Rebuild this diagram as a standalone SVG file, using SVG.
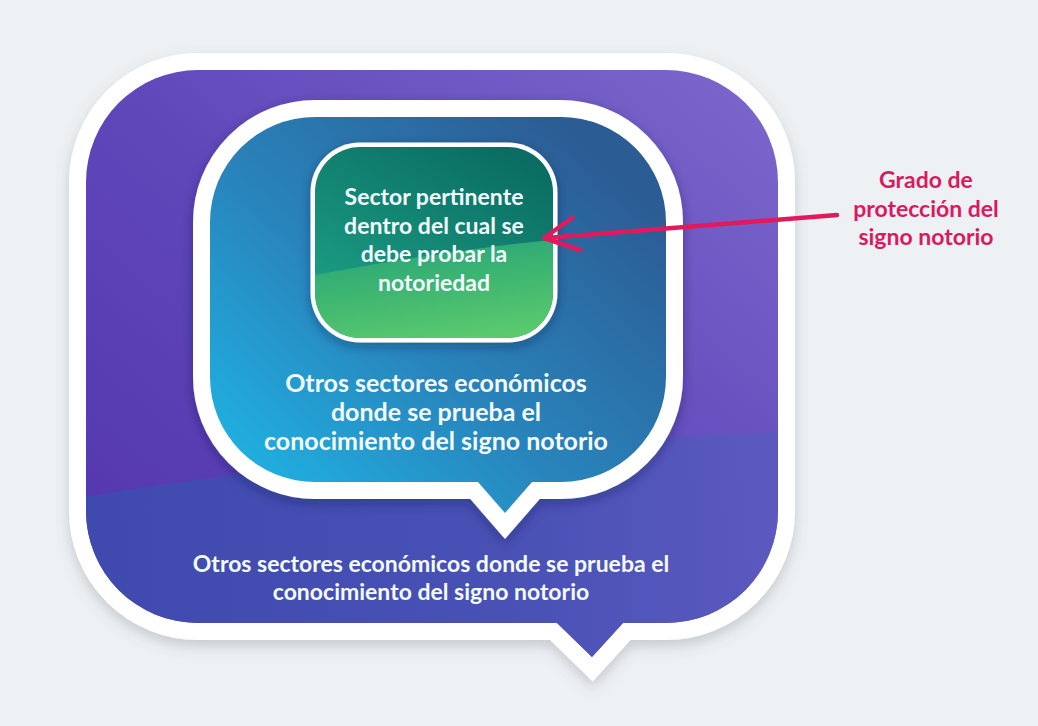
<svg xmlns="http://www.w3.org/2000/svg" width="1038" height="726" viewBox="0 0 1038 726">
  <defs>
    <style>
      .lbl { font-family: Lato, "Open Sans", "Liberation Sans", sans-serif; font-weight: bold; fill: #f3fbff; text-anchor: middle; }
      .red { font-family: Lato, "Open Sans", "Liberation Sans", sans-serif; font-weight: bold; fill: #d81b5e; text-anchor: middle; font-size: 23px; }
      .rim { fill: none; stroke: #ffffff; stroke-width: 34; stroke-linejoin: miter; stroke-miterlimit: 10; }
    </style>
    <filter id="shadow" x="-10%" y="-10%" width="120%" height="125%">
      <feDropShadow dx="0" dy="6" stdDeviation="7" flood-color="#5a6270" flood-opacity="0.28"/>
    </filter>
    <filter id="shadowIn" x="-10%" y="-10%" width="120%" height="125%">
      <feDropShadow dx="0" dy="4" stdDeviation="6" flood-color="#102040" flood-opacity="0.35"/>
    </filter>
    <linearGradient id="gPurple" x1="0" y1="1" x2="1" y2="0">
      <stop offset="0" stop-color="#5233ab"/>
      <stop offset="0.5" stop-color="#5f47ba"/>
      <stop offset="1" stop-color="#7c68cc"/>
    </linearGradient>
    <linearGradient id="gPurpleLow" x1="0" y1="0" x2="1" y2="0">
      <stop offset="0" stop-color="#3d4aae"/>
      <stop offset="0.6" stop-color="#4852b5"/>
      <stop offset="1" stop-color="#5e5bc2"/>
    </linearGradient>
    <linearGradient id="gBlue" x1="0" y1="0.9" x2="0.85" y2="0.1">
      <stop offset="0" stop-color="#1fb5e5"/>
      <stop offset="0.45" stop-color="#2886bd"/>
      <stop offset="1" stop-color="#2c5c94"/>
    </linearGradient>
    <linearGradient id="gGreen" x1="0.2" y1="0.9" x2="0.8" y2="0">
      <stop offset="0" stop-color="#1c9e84"/>
      <stop offset="1" stop-color="#0a6c62"/>
    </linearGradient>
    <linearGradient id="gGreenLow" x1="0" y1="0" x2="0.3" y2="1">
      <stop offset="0" stop-color="#22a07c"/>
      <stop offset="0.5" stop-color="#3db571"/>
      <stop offset="1" stop-color="#5bc96e"/>
    </linearGradient>
    <path id="outerShape" d="M 198,70 H 666 A 112 112 0 0 1 778 182 V 511 A 112 112 0 0 1 666 623 H 623 L 592 657 L 557 623 H 198 A 112 112 0 0 1 86 511 V 182 A 112 112 0 0 1 198 70 Z"/>
    <path id="innerShape" d="M 315,117 H 561 A 105 105 0 0 1 666 222 V 377 A 105 105 0 0 1 561 482 H 532 L 505 513 L 478 482 H 315 A 105 105 0 0 1 210 377 V 222 A 105 105 0 0 1 315 117 Z"/>
    <clipPath id="clipOuter"><use href="#outerShape"/></clipPath>
    <clipPath id="clipGreen"><rect x="315" y="147" width="238" height="191" rx="45"/></clipPath>
  </defs>

  <rect width="1038" height="726" fill="#eef1f4"/>

  <g id="outer-bubble">
    <use href="#outerShape" class="rim" filter="url(#shadow)"/>
    <use href="#outerShape" fill="url(#gPurple)"/>
    <path d="M 60,502 Q 300,455 820,430 L 820,700 L 60,700 Z" fill="url(#gPurpleLow)" clip-path="url(#clipOuter)" opacity="0.95"/>
    <text class="lbl" font-size="23" x="431" y="572">Otros sectores económicos donde se prueba el</text>
    <text class="lbl" font-size="23" x="431" y="600">conocimiento del signo notorio</text>
  </g>

  <g id="inner-bubble">
    <use href="#innerShape" class="rim" filter="url(#shadowIn)"/>
    <use href="#innerShape" fill="url(#gBlue)"/>
    <text class="lbl" font-size="25" x="436" y="392">Otros sectores económicos</text>
    <text class="lbl" font-size="25" x="436" y="421">donde se prueba el</text>
    <text class="lbl" font-size="25" x="436" y="450">conocimiento del signo notorio</text>
  </g>

  <g id="relevant-sector">
    <rect x="310.5" y="142.5" width="247" height="200" rx="49.5" fill="#ffffff" filter="url(#shadowIn)"/>
    <rect x="315" y="147" width="238" height="191" rx="45" fill="url(#gGreen)"/>
    <path d="M 300,278 Q 430,252 570,238 L 570,350 L 300,350 Z" fill="url(#gGreenLow)" clip-path="url(#clipGreen)"/>
    <text class="lbl" font-size="23" x="434" y="205">Sector pertinente</text>
    <text class="lbl" font-size="23" x="434" y="233.5">dentro del cual se</text>
    <text class="lbl" font-size="23" x="434" y="262">debe probar la</text>
    <text class="lbl" font-size="23" x="434" y="290.5">notoriedad</text>
  </g>

  <g id="protection-label">
    <text class="red" x="926" y="188">Grado de</text>
    <text class="red" x="926" y="217">protección del</text>
    <text class="red" x="926" y="245">signo notorio</text>
  </g>

  <g id="connectors">
    <path d="M 837,215 L 546,238 M 572,218 L 544,238 L 580,250" fill="none" stroke="#e01a5c" stroke-width="4.5" stroke-linecap="round" stroke-linejoin="round"/>
  </g>
</svg>
